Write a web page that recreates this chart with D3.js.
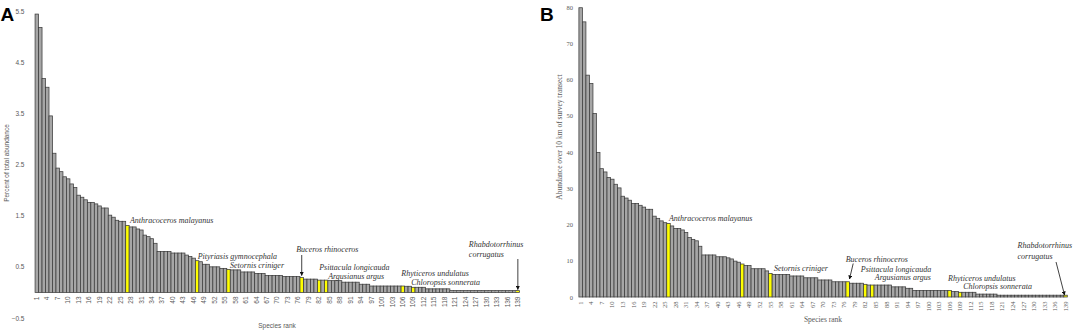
<!DOCTYPE html>
<html><head><meta charset="utf-8">
<script src="https://cdn.jsdelivr.net/npm/d3@7/dist/d3.min.js"></script>
<style>
html,body{margin:0;padding:0;background:#fff;}
svg{display:block;}
</style></head>
<body>
<svg id="chart" width="1079" height="334"></svg>
<script>
// ---------- DATA ----------
const ranks = d3.range(1, 140);
const xTickLabels = [1,4,7,10,13,16,19,22,25,28,31,34,37,40,43,46,49,52,55,58,61,64,67,70,73,76,79,82,85,88,91,94,97,100,103,106,109,112,115,118,121,124,127,130,133,136,139];

const percentAbundance = [
 5.44,5.18,4.18,4.01,3.45,2.72,2.43,2.36,2.26,2.22,
 2.12,2.05,1.90,1.86,1.81,1.76,1.76,1.73,1.69,1.65,
 1.65,1.51,1.47,1.41,1.39,1.39,1.31,1.28,1.28,1.24,
 1.22,1.12,1.09,1.05,0.96,0.80,0.80,0.80,0.80,0.77,
 0.77,0.77,0.77,0.73,0.70,0.67,0.62,0.60,0.55,0.55,
 0.50,0.50,0.50,0.47,0.47,0.45,0.44,0.44,0.44,0.40,
 0.40,0.40,0.40,0.37,0.37,0.37,0.33,0.33,0.33,0.33,
 0.33,0.31,0.31,0.31,0.31,0.31,0.29,0.26,0.26,0.26,
 0.26,0.24,0.24,0.24,0.23,0.23,0.23,0.23,0.20,0.20,
 0.20,0.20,0.20,0.16,0.16,0.16,0.125,0.125,0.125,0.125,
 0.125,0.125,0.125,0.125,0.125,0.125,0.12,0.12,0.10,0.10,
 0.10,0.10,0.07,0.07,0.07,0.07,0.07,0.07,0.07,0.035,
 0.035,0.035,0.035,0.035,0.035,0.035,0.035,0.035,0.035,0.035,
 0.035,0.035,0.035,0.035,0.035,0.035,0.035,0.035,0.035
];

const abundance10km = [
 79.8,75.9,61.2,58.9,50.6,39.9,35.4,34.5,33.0,32.5,
 31.1,30.1,27.8,27.3,26.7,25.8,25.8,25.3,24.8,24.2,
 24.2,22.3,21.7,21.0,20.5,20.3,19.6,18.9,18.9,18.5,
 17.8,16.4,15.9,15.5,14.0,11.6,11.6,11.6,11.6,11.1,
 11.1,11.1,10.8,10.5,9.9,9.6,9.1,8.7,8.7,7.8,
 7.8,7.8,7.8,7.2,6.5,6.2,6.2,6.2,6.2,6.2,
 5.8,5.8,5.8,5.8,5.3,5.3,5.3,5.3,4.7,4.7,
 4.7,4.7,4.2,4.2,4.2,4.2,4.2,3.8,3.8,3.8,
 3.8,3.5,3.3,3.3,3.3,3.3,3.3,3.3,3.3,2.8,
 2.8,2.8,2.8,2.4,2.4,1.8,1.8,1.8,1.8,1.8,
 1.8,1.8,1.8,1.8,1.8,1.8,1.5,1.5,1.3,1.3,
 1.3,1.3,1.3,0.8,0.8,0.8,0.8,0.8,0.8,0.5,
 0.5,0.5,0.5,0.5,0.5,0.5,0.5,0.5,0.5,0.5,
 0.5,0.5,0.5,0.5,0.5,0.5,0.5,0.5,0.5
];

const highlightA = [27,47,56,77,82,84,106,109,139];
const highlightB = [26,47,55,77,82,84,106,109,139];

const yTicksA = [-0.5,0.5,1.5,2.5,3.5,4.5,5.5];
const yTicksB = [0,10,20,30,40,50,60,70,80];

const speciesA = ["Anthracoceros malayanus","Pityriasis gymnocephala","Setornis criniger","Buceros rhinoceros","Psittacula longicauda","Argusianus argus","Rhyticeros undulatus","Chloropsis sonnerata","Rhabdotorrhinus|corrugatus"];
const speciesB = ["Anthracoceros malayanus","Setornis criniger","Buceros rhinoceros","Psittacula longicauda","Argusianus argus","Rhyticeros undulatus","Chloropsis sonnerata","Rhabdotorrhinus|corrugatus"];
const speciesRankA = [27,47,56,77,82,84,106,109,139];
const speciesRankB = [26,55,77,82,84,106,109,139];

// ---------- LAYOUT (annotation offsets) ----------
const annA = [
 {dx:2.5, y:222.5},{dx:0.5, y:259},{dx:1.5,y:267.5},
 {dx:-5.5,y:251.5, arrow:[0,255,0,275.5]},
 {dx:0, y:269.5},{dx:2,y:278.5},{dx:-1.5,y:275.5},{dx:-2,y:285},
 {dx:-49,y:247,y2:256.5, arrow:[0,259,0,289.5]}
];
const annB = [
 {dx:0.5,y:221},{dx:3.5,y:270.5},
 {dx:-2,y:261.5, arrow:[5.5,263.5,1.8,279]},
 {dx:-4.5,y:271.5},{dx:2.5,y:280},{dx:-1.5,y:280.5},{dx:3,y:289},
 {dx:-48,y:248,y2:259, arrow:[-9.5,262,-1,295]}
];

const svg = d3.select("#chart");
svg.append("defs").append("marker")
  .attr("id","arr").attr("viewBox","0 0 10 10").attr("refX",9).attr("refY",5)
  .attr("markerWidth",5).attr("markerHeight",5).attr("orient","auto")
  .append("path").attr("d","M0,0L10,5L0,10z").attr("fill","#111");

function panel(cfg){
  const g = svg.append("g");
  const x = d3.scaleBand().domain(ranks).range(cfg.xr).padding(0);
  const y = d3.scaleLinear().domain(cfg.yd).range(cfg.yr);
  const vals = cfg.values;
  const y0 = y(0);
  g.selectAll("rect.bar").data(ranks).join("rect")
    .attr("class","bar")
    .attr("x", r => x(r))
    .attr("y", r => y(vals[r-1]))
    .attr("width", x.bandwidth())
    .attr("height", r => y0 - y(vals[r-1]))
    .attr("fill", r => cfg.hl.includes(r) ? "#ffff00" : "#a6a6a6")
    .attr("stroke","#3c3c3c").attr("stroke-width",0.75);

  // y axis (labels only)
  const ya = d3.axisLeft(y).tickValues(cfg.yticks).tickSize(0).tickPadding(0)
    .tickFormat(cfg.yfmt);
  const yg = g.append("g").attr("transform",`translate(${cfg.ylabX},0)`).call(ya);
  yg.select(".domain").remove();
  yg.selectAll("text").attr("fill","#595959").style("font-family",cfg.font).style("font-size",cfg.tickFs+"px");

  // x axis labels
  const xa = d3.axisBottom(x).tickValues(xTickLabels).tickSize(0).tickPadding(0);
  const xg = g.append("g").attr("transform",`translate(0,${cfg.xlabY})`).call(xa);
  xg.select(".domain").remove();
  xg.selectAll("text").attr("fill","#595959").style("font-family",cfg.font).style("font-size",cfg.tickFs+"px")
    .attr("text-anchor","end").attr("dy","0.33em").attr("dx",0)
    .attr("transform","rotate(-90)").attr("y",0).attr("x",0);

  // titles
  g.append("text").attr("x",cfg.titleX).attr("y",cfg.titleY).attr("text-anchor","middle")
    .attr("fill","#595959").style("font-family",cfg.font).style("font-size",cfg.titleFs+"px").text("Species rank");
  g.append("text").attr("transform",`translate(${cfg.ytX},${cfg.ytY}) rotate(-90)`).attr("text-anchor","middle")
    .attr("fill","#595959").style("font-family",cfg.font).style("font-size",cfg.titleFs+"px").text(cfg.ytitle);
  g.append("text").attr("x",cfg.letterX).attr("y",20.5).attr("fill","#000")
    .style("font-family","'Liberation Sans',Arial,sans-serif").style("font-weight","bold").style("font-size","19px").text(cfg.letter);

  // annotations
  cfg.names.forEach((nm,i)=>{
    const a = cfg.ann[i];
    const cx = x(cfg.nameRanks[i]) + x.bandwidth()/2;
    const parts = nm.split("|");
    g.append("text").attr("x",cx+a.dx).attr("y",a.y)
      .attr("fill","#333").style("font-family","'Liberation Serif','Times New Roman',serif")
      .style("font-style","italic").style("font-size","8px").text(parts[0]);
    if(parts[1]) g.append("text").attr("x",cx+a.dx).attr("y",a.y2)
      .attr("fill","#333").style("font-family","'Liberation Serif','Times New Roman',serif")
      .style("font-style","italic").style("font-size","8px").text(parts[1]);
    if(a.arrow){
      g.append("line").attr("x1",cx+a.arrow[0]).attr("y1",a.arrow[1]).attr("x2",cx+a.arrow[2]).attr("y2",a.arrow[3])
        .attr("stroke","#111").attr("stroke-width",0.8).attr("marker-end","url(#arr)");
    }
  });
}

panel({
  values: percentAbundance, hl: highlightA,
  xr:[35.06, 519.6], yd:[-0.5,5.5], yr:[318,11], yticks:yTicksA, yfmt:d3.format(".1f"),
  ylabX:24.5, xlabY:296.5, font:"'Liberation Sans',Arial,sans-serif", tickFs:6.5, titleFs:6.5,
  titleX:277, titleY:328, ytX:9, ytY:163, ytitle:"Percent of total abundance",
  letter:"A", letterX:0.5, names:speciesA, nameRanks:speciesRankA, ann:annA
});
panel({
  values: abundance10km, hl: highlightB,
  xr:[578.9, 1067.3], yd:[0,80], yr:[297,7], yticks:yTicksB, yfmt:d3.format("d"),
  ylabX:573, xlabY:301.5, font:"'Liberation Serif','Times New Roman',serif", tickFs:6.5, titleFs:7.5,
  titleX:823, titleY:322, ytX:562, ytY:137, ytitle:"Abundance over 10 km of survey transect",
  letter:"B", letterX:540, names:speciesB, nameRanks:speciesRankB, ann:annB
});
</script>
</body></html>
